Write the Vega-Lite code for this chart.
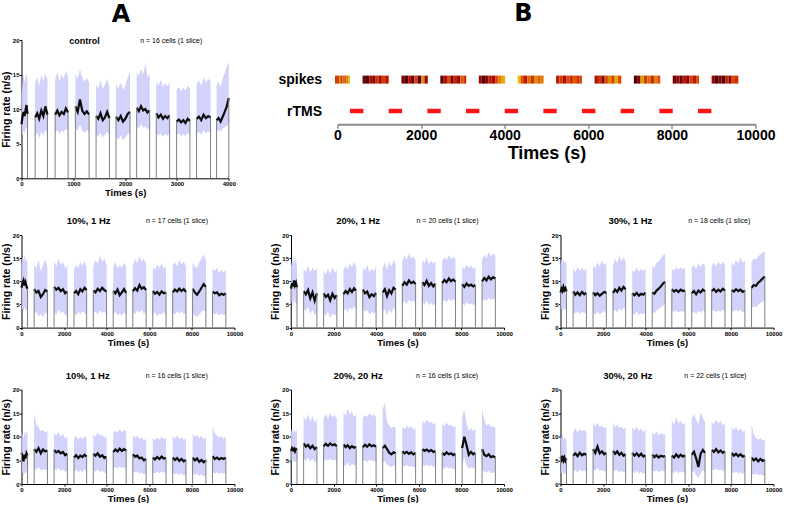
{
"$schema": "https://vega.github.io/schema/vega-lite/v6.json",
"background": "white",
"padding": {"left": 0.5, "top": 2, "right": 0, "bottom": 0},
"config": {
  "font": "Liberation Sans",
  "view": {"stroke": null},
  "axis": {"grid": false, "domainColor": "#000", "tickColor": "#000", "labelColor": "#000", "titleColor": "#000", "labelFont": "Liberation Sans", "titleFont": "Liberation Sans", "labelFontWeight": "bold", "titleFontWeight": "bold", "labelFontSize": 6, "titleFontSize": 9.5, "tickSize": 2, "labelPadding": 0.5, "titlePadding": 1, "labelFlush": false, "labelOverlap": false, "labelBound": false},
  "axisY": {"titleFontSize": 10.5, "labelOverlap": false},
  "text": {"color": "#000"}
},
"datasets": {
"fr": [
{"p":"c","s":1,"t":0,"m":7.8,"lo":5.6,"hi":12.2},{"p":"c","s":1,"t":19,"m":8.9,"lo":6.3,"hi":13.6},{"p":"c","s":1,"t":39,"m":9.6,"lo":6.9,"hi":15.0},{"p":"c","s":1,"t":58,"m":9.0,"lo":6.4,"hi":13.8},{"p":"c","s":1,"t":77,"m":9.8,"lo":7.1,"hi":14.6},{"p":"c","s":1,"t":97,"m":10.6,"lo":7.4,"hi":15.2},{"p":"c","s":1,"t":116,"m":9.3,"lo":6.8,"hi":13.9},
{"p":"c","s":2,"t":263,"m":8.8,"lo":6.0,"hi":13.8},{"p":"c","s":2,"t":303,"m":9.4,"lo":6.6,"hi":14.6},{"p":"c","s":2,"t":342,"m":8.6,"lo":5.8,"hi":13.4},{"p":"c","s":2,"t":382,"m":9.8,"lo":6.8,"hi":15.0},{"p":"c","s":2,"t":422,"m":9.0,"lo":6.2,"hi":14.0},{"p":"c","s":2,"t":461,"m":10.4,"lo":7.0,"hi":15.2},{"p":"c","s":2,"t":501,"m":9.2,"lo":6.4,"hi":14.2},
{"p":"c","s":3,"t":649,"m":9.2,"lo":6.6,"hi":14.2},{"p":"c","s":3,"t":691,"m":9.8,"lo":7.0,"hi":15.4},{"p":"c","s":3,"t":732,"m":9.1,"lo":6.4,"hi":14.0},{"p":"c","s":3,"t":774,"m":9.6,"lo":6.9,"hi":15.0},{"p":"c","s":3,"t":816,"m":9.3,"lo":6.7,"hi":14.4},{"p":"c","s":3,"t":857,"m":10.1,"lo":7.2,"hi":15.6},{"p":"c","s":3,"t":899,"m":9.5,"lo":6.8,"hi":14.6},
{"p":"c","s":4,"t":1040,"m":10.4,"lo":7.4,"hi":15.0},{"p":"c","s":4,"t":1084,"m":9.6,"lo":6.8,"hi":14.4},{"p":"c","s":4,"t":1128,"m":11.4,"lo":7.8,"hi":15.8},{"p":"c","s":4,"t":1172,"m":9.8,"lo":6.9,"hi":14.6},{"p":"c","s":4,"t":1216,"m":9.3,"lo":6.6,"hi":14.0},{"p":"c","s":4,"t":1260,"m":9.7,"lo":7.0,"hi":14.5},{"p":"c","s":4,"t":1304,"m":9.2,"lo":6.7,"hi":13.9},
{"p":"c","s":5,"t":1439,"m":9.0,"lo":6.4,"hi":13.6},{"p":"c","s":5,"t":1482,"m":8.6,"lo":6.0,"hi":13.0},{"p":"c","s":5,"t":1525,"m":9.4,"lo":6.6,"hi":14.2},{"p":"c","s":5,"t":1568,"m":8.4,"lo":5.9,"hi":12.9},{"p":"c","s":5,"t":1610,"m":8.8,"lo":6.3,"hi":13.5},{"p":"c","s":5,"t":1653,"m":9.6,"lo":6.8,"hi":14.4},{"p":"c","s":5,"t":1696,"m":8.7,"lo":6.2,"hi":13.2},
{"p":"c","s":6,"t":1824,"m":8.9,"lo":6.0,"hi":13.6},{"p":"c","s":6,"t":1869,"m":8.4,"lo":5.6,"hi":13.0},{"p":"c","s":6,"t":1914,"m":9.0,"lo":6.2,"hi":13.8},{"p":"c","s":6,"t":1959,"m":8.2,"lo":5.5,"hi":12.8},{"p":"c","s":6,"t":2004,"m":8.6,"lo":5.9,"hi":13.4},{"p":"c","s":6,"t":2049,"m":9.3,"lo":6.4,"hi":14.6},{"p":"c","s":6,"t":2094,"m":9.6,"lo":6.6,"hi":15.4},
{"p":"c","s":7,"t":2222,"m":10.2,"lo":7.6,"hi":15.2},{"p":"c","s":7,"t":2264,"m":9.7,"lo":7.2,"hi":14.8},{"p":"c","s":7,"t":2306,"m":10.4,"lo":7.8,"hi":15.8},{"p":"c","s":7,"t":2348,"m":9.8,"lo":7.3,"hi":15.0},{"p":"c","s":7,"t":2389,"m":10.0,"lo":7.5,"hi":16.6},{"p":"c","s":7,"t":2431,"m":9.5,"lo":7.1,"hi":14.6},{"p":"c","s":7,"t":2473,"m":9.8,"lo":7.4,"hi":15.1},
{"p":"c","s":8,"t":2601,"m":9.4,"lo":6.6,"hi":14.0},{"p":"c","s":8,"t":2644,"m":8.8,"lo":6.2,"hi":13.4},{"p":"c","s":8,"t":2687,"m":9.2,"lo":6.5,"hi":14.2},{"p":"c","s":8,"t":2730,"m":8.6,"lo":6.0,"hi":13.2},{"p":"c","s":8,"t":2772,"m":9.0,"lo":6.4,"hi":13.8},{"p":"c","s":8,"t":2815,"m":8.7,"lo":6.1,"hi":13.3},{"p":"c","s":8,"t":2858,"m":9.1,"lo":6.5,"hi":13.9},
{"p":"c","s":9,"t":2993,"m":8.2,"lo":6.2,"hi":12.8},{"p":"c","s":9,"t":3036,"m":8.5,"lo":6.5,"hi":13.2},{"p":"c","s":9,"t":3079,"m":8.1,"lo":6.0,"hi":12.6},{"p":"c","s":9,"t":3122,"m":8.4,"lo":6.4,"hi":13.1},{"p":"c","s":9,"t":3164,"m":8.0,"lo":6.1,"hi":12.7},{"p":"c","s":9,"t":3207,"m":8.6,"lo":6.6,"hi":13.4},{"p":"c","s":9,"t":3250,"m":8.3,"lo":6.3,"hi":13.0},
{"p":"c","s":10,"t":3378,"m":8.6,"lo":6.4,"hi":13.6},{"p":"c","s":10,"t":3423,"m":8.9,"lo":6.7,"hi":14.2},{"p":"c","s":10,"t":3468,"m":8.4,"lo":6.3,"hi":13.4},{"p":"c","s":10,"t":3513,"m":9.2,"lo":6.9,"hi":14.6},{"p":"c","s":10,"t":3558,"m":8.7,"lo":6.5,"hi":13.8},{"p":"c","s":10,"t":3603,"m":9.0,"lo":6.8,"hi":14.4},{"p":"c","s":10,"t":3648,"m":8.8,"lo":6.6,"hi":14.0},
{"p":"c","s":11,"t":3764,"m":8.4,"lo":6.8,"hi":13.4},{"p":"c","s":11,"t":3803,"m":8.7,"lo":7.0,"hi":14.0},{"p":"c","s":11,"t":3843,"m":8.2,"lo":6.7,"hi":13.2},{"p":"c","s":11,"t":3882,"m":8.9,"lo":7.2,"hi":14.4},{"p":"c","s":11,"t":3921,"m":9.6,"lo":7.4,"hi":15.2},{"p":"c","s":11,"t":3961,"m":10.4,"lo":7.6,"hi":16.2},{"p":"c","s":11,"t":4000,"m":11.6,"lo":7.8,"hi":16.8},

{"p":"a1","s":1,"t":0,"m":8.6,"lo":3.5,"hi":13.8},{"p":"a1","s":1,"t":47,"m":9.6,"lo":4.2,"hi":15.2},{"p":"a1","s":1,"t":94,"m":10.2,"lo":3.8,"hi":14.6},{"p":"a1","s":1,"t":140,"m":9.1,"lo":4.5,"hi":15.8},{"p":"a1","s":1,"t":187,"m":9.8,"lo":3.6,"hi":14.2},{"p":"a1","s":1,"t":234,"m":8.9,"lo":4.0,"hi":15.0},{"p":"a1","s":1,"t":281,"m":8.4,"lo":3.2,"hi":13.9},
{"p":"a1","s":2,"t":593,"m":8.3,"lo":2.8,"hi":13.5},{"p":"a1","s":2,"t":697,"m":7.6,"lo":3.5,"hi":12.8},{"p":"a1","s":2,"t":801,"m":7.9,"lo":2.4,"hi":14.6},{"p":"a1","s":2,"t":905,"m":6.6,"lo":3.0,"hi":12.2},{"p":"a1","s":2,"t":1009,"m":7.2,"lo":2.2,"hi":13.4},{"p":"a1","s":2,"t":1113,"m":8.1,"lo":3.3,"hi":14.8},{"p":"a1","s":2,"t":1217,"m":7.8,"lo":2.9,"hi":13.1},
{"p":"a1","s":3,"t":1529,"m":8.8,"lo":3.6,"hi":14.4},{"p":"a1","s":3,"t":1633,"m":8.2,"lo":2.8,"hi":13.2},{"p":"a1","s":3,"t":1737,"m":8.6,"lo":3.9,"hi":14.9},{"p":"a1","s":3,"t":1841,"m":7.9,"lo":3.1,"hi":13.6},{"p":"a1","s":3,"t":1945,"m":8.3,"lo":3.5,"hi":14.2},{"p":"a1","s":3,"t":2049,"m":7.4,"lo":2.6,"hi":12.8},{"p":"a1","s":3,"t":2153,"m":7.8,"lo":3.0,"hi":13.5},
{"p":"a1","s":4,"t":2465,"m":7.4,"lo":3.2,"hi":12.6},{"p":"a1","s":4,"t":2564,"m":7.9,"lo":2.5,"hi":13.5},{"p":"a1","s":4,"t":2663,"m":7.2,"lo":3.4,"hi":12.9},{"p":"a1","s":4,"t":2762,"m":8.3,"lo":2.9,"hi":14.1},{"p":"a1","s":4,"t":2860,"m":7.8,"lo":3.6,"hi":13.3},{"p":"a1","s":4,"t":2959,"m":8.6,"lo":3.1,"hi":14.4},{"p":"a1","s":4,"t":3058,"m":8.1,"lo":2.7,"hi":13.0},
{"p":"a1","s":5,"t":3370,"m":8.0,"lo":3.0,"hi":13.2},{"p":"a1","s":5,"t":3474,"m":7.6,"lo":3.6,"hi":14.6},{"p":"a1","s":5,"t":3578,"m":8.4,"lo":2.7,"hi":13.8},{"p":"a1","s":5,"t":3682,"m":7.9,"lo":3.8,"hi":15.6},{"p":"a1","s":5,"t":3786,"m":8.6,"lo":3.1,"hi":14.2},{"p":"a1","s":5,"t":3890,"m":8.1,"lo":3.4,"hi":14.9},{"p":"a1","s":5,"t":3994,"m":7.8,"lo":2.8,"hi":13.5},
{"p":"a1","s":6,"t":4306,"m":7.9,"lo":2.9,"hi":13.0},{"p":"a1","s":6,"t":4407,"m":7.4,"lo":3.4,"hi":14.2},{"p":"a1","s":6,"t":4509,"m":8.2,"lo":2.6,"hi":12.7},{"p":"a1","s":6,"t":4610,"m":7.0,"lo":3.1,"hi":13.6},{"p":"a1","s":6,"t":4711,"m":7.6,"lo":2.5,"hi":12.9},{"p":"a1","s":6,"t":4813,"m":8.3,"lo":3.3,"hi":14.0},{"p":"a1","s":6,"t":4914,"m":7.5,"lo":2.8,"hi":13.2},
{"p":"a1","s":7,"t":5226,"m":7.8,"lo":3.4,"hi":13.6},{"p":"a1","s":7,"t":5330,"m":8.5,"lo":2.9,"hi":14.8},{"p":"a1","s":7,"t":5434,"m":8.0,"lo":3.7,"hi":13.9},{"p":"a1","s":7,"t":5538,"m":9.2,"lo":3.2,"hi":15.4},{"p":"a1","s":7,"t":5642,"m":8.4,"lo":3.8,"hi":14.3},{"p":"a1","s":7,"t":5746,"m":8.7,"lo":3.0,"hi":14.9},{"p":"a1","s":7,"t":5850,"m":8.1,"lo":3.5,"hi":13.8},
{"p":"a1","s":8,"t":6162,"m":7.9,"lo":2.7,"hi":13.1},{"p":"a1","s":8,"t":6266,"m":7.3,"lo":3.3,"hi":12.5},{"p":"a1","s":8,"t":6370,"m":7.7,"lo":2.5,"hi":13.6},{"p":"a1","s":8,"t":6474,"m":7.1,"lo":3.0,"hi":12.9},{"p":"a1","s":8,"t":6578,"m":7.8,"lo":2.8,"hi":13.8},{"p":"a1","s":8,"t":6682,"m":7.4,"lo":3.4,"hi":12.7},{"p":"a1","s":8,"t":6786,"m":7.6,"lo":2.6,"hi":13.2},
{"p":"a1","s":9,"t":7098,"m":7.6,"lo":3.1,"hi":13.4},{"p":"a1","s":9,"t":7202,"m":8.2,"lo":2.8,"hi":14.1},{"p":"a1","s":9,"t":7306,"m":7.8,"lo":3.5,"hi":13.2},{"p":"a1","s":9,"t":7410,"m":8.4,"lo":3.0,"hi":14.6},{"p":"a1","s":9,"t":7514,"m":7.9,"lo":3.6,"hi":13.7},{"p":"a1","s":9,"t":7618,"m":8.3,"lo":2.9,"hi":14.2},{"p":"a1","s":9,"t":7722,"m":7.7,"lo":3.2,"hi":13.3},
{"p":"a1","s":10,"t":8034,"m":8.4,"lo":3.0,"hi":14.0},{"p":"a1","s":10,"t":8138,"m":7.6,"lo":2.6,"hi":13.2},{"p":"a1","s":10,"t":8242,"m":7.1,"lo":2.3,"hi":12.8},{"p":"a1","s":10,"t":8346,"m":7.8,"lo":2.9,"hi":14.1},{"p":"a1","s":10,"t":8450,"m":8.6,"lo":3.4,"hi":14.9},{"p":"a1","s":10,"t":8554,"m":9.4,"lo":3.8,"hi":15.8},{"p":"a1","s":10,"t":8658,"m":8.8,"lo":3.3,"hi":14.6},
{"p":"a1","s":11,"t":8970,"m":7.8,"lo":3.2,"hi":12.8},{"p":"a1","s":11,"t":9074,"m":7.4,"lo":2.8,"hi":12.2},{"p":"a1","s":11,"t":9178,"m":7.6,"lo":3.1,"hi":12.9},{"p":"a1","s":11,"t":9282,"m":7.0,"lo":2.6,"hi":11.8},{"p":"a1","s":11,"t":9386,"m":7.3,"lo":3.0,"hi":12.5},{"p":"a1","s":11,"t":9490,"m":7.1,"lo":2.7,"hi":11.9},{"p":"a1","s":11,"t":9594,"m":7.4,"lo":2.9,"hi":12.6},

{"p":"a2","s":1,"t":0,"m":8.4,"lo":5.0,"hi":13.2},{"p":"a2","s":1,"t":47,"m":9.6,"lo":5.8,"hi":14.6},{"p":"a2","s":1,"t":94,"m":8.9,"lo":4.6,"hi":13.8},{"p":"a2","s":1,"t":140,"m":10.2,"lo":6.1,"hi":15.6},{"p":"a2","s":1,"t":187,"m":9.1,"lo":5.2,"hi":14.1},{"p":"a2","s":1,"t":234,"m":9.7,"lo":5.6,"hi":14.8},{"p":"a2","s":1,"t":281,"m":8.7,"lo":4.8,"hi":13.5},
{"p":"a2","s":2,"t":593,"m":7.9,"lo":4.2,"hi":12.6},{"p":"a2","s":2,"t":697,"m":7.2,"lo":3.6,"hi":12.0},{"p":"a2","s":2,"t":801,"m":8.1,"lo":4.5,"hi":13.4},{"p":"a2","s":2,"t":905,"m":6.3,"lo":2.9,"hi":11.8},{"p":"a2","s":2,"t":1009,"m":7.6,"lo":3.8,"hi":13.0},{"p":"a2","s":2,"t":1113,"m":5.8,"lo":2.6,"hi":12.2},{"p":"a2","s":2,"t":1217,"m":7.4,"lo":3.5,"hi":12.8},
{"p":"a2","s":3,"t":1529,"m":7.4,"lo":3.2,"hi":12.2},{"p":"a2","s":3,"t":1633,"m":6.6,"lo":2.5,"hi":11.4},{"p":"a2","s":3,"t":1737,"m":7.1,"lo":3.4,"hi":12.8},{"p":"a2","s":3,"t":1841,"m":5.9,"lo":2.1,"hi":11.6},{"p":"a2","s":3,"t":1945,"m":7.3,"lo":3.1,"hi":13.1},{"p":"a2","s":3,"t":2049,"m":6.4,"lo":2.6,"hi":11.9},{"p":"a2","s":3,"t":2153,"m":7.0,"lo":3.0,"hi":12.5},
{"p":"a2","s":4,"t":2465,"m":7.2,"lo":3.6,"hi":12.4},{"p":"a2","s":4,"t":2564,"m":7.9,"lo":4.1,"hi":13.3},{"p":"a2","s":4,"t":2663,"m":7.4,"lo":3.3,"hi":12.6},{"p":"a2","s":4,"t":2762,"m":8.3,"lo":4.4,"hi":13.9},{"p":"a2","s":4,"t":2860,"m":7.7,"lo":3.8,"hi":12.9},{"p":"a2","s":4,"t":2959,"m":8.5,"lo":4.6,"hi":14.2},{"p":"a2","s":4,"t":3058,"m":8.0,"lo":4.0,"hi":13.2},
{"p":"a2","s":5,"t":3370,"m":8.2,"lo":4.1,"hi":13.0},{"p":"a2","s":5,"t":3474,"m":7.4,"lo":3.4,"hi":12.3},{"p":"a2","s":5,"t":3578,"m":7.8,"lo":3.8,"hi":13.6},{"p":"a2","s":5,"t":3682,"m":6.6,"lo":2.8,"hi":11.9},{"p":"a2","s":5,"t":3786,"m":7.2,"lo":3.5,"hi":12.8},{"p":"a2","s":5,"t":3890,"m":6.8,"lo":3.0,"hi":12.1},{"p":"a2","s":5,"t":3994,"m":7.5,"lo":3.6,"hi":13.2},
{"p":"a2","s":6,"t":4306,"m":7.6,"lo":3.4,"hi":12.9},{"p":"a2","s":6,"t":4407,"m":8.3,"lo":4.0,"hi":14.0},{"p":"a2","s":6,"t":4509,"m":6.8,"lo":2.6,"hi":12.5},{"p":"a2","s":6,"t":4610,"m":8.1,"lo":3.9,"hi":14.3},{"p":"a2","s":6,"t":4711,"m":7.4,"lo":3.1,"hi":13.2},{"p":"a2","s":6,"t":4813,"m":8.6,"lo":4.3,"hi":14.6},{"p":"a2","s":6,"t":4914,"m":8.2,"lo":3.8,"hi":13.8},
{"p":"a2","s":7,"t":5226,"m":9.0,"lo":5.2,"hi":14.2},{"p":"a2","s":7,"t":5330,"m":9.8,"lo":5.8,"hi":15.6},{"p":"a2","s":7,"t":5434,"m":9.3,"lo":5.0,"hi":14.6},{"p":"a2","s":7,"t":5538,"m":10.2,"lo":6.1,"hi":16.1},{"p":"a2","s":7,"t":5642,"m":9.6,"lo":5.5,"hi":14.9},{"p":"a2","s":7,"t":5746,"m":9.9,"lo":5.9,"hi":15.4},{"p":"a2","s":7,"t":5850,"m":9.4,"lo":5.3,"hi":14.5},
{"p":"a2","s":8,"t":6162,"m":9.8,"lo":5.6,"hi":14.6},{"p":"a2","s":8,"t":6266,"m":9.2,"lo":5.0,"hi":13.9},{"p":"a2","s":8,"t":6370,"m":10.1,"lo":5.9,"hi":15.2},{"p":"a2","s":8,"t":6474,"m":9.0,"lo":4.8,"hi":13.6},{"p":"a2","s":8,"t":6578,"m":9.6,"lo":5.4,"hi":14.5},{"p":"a2","s":8,"t":6682,"m":8.9,"lo":4.7,"hi":13.8},{"p":"a2","s":8,"t":6786,"m":9.5,"lo":5.2,"hi":14.4},
{"p":"a2","s":9,"t":7098,"m":9.6,"lo":5.4,"hi":14.4},{"p":"a2","s":9,"t":7202,"m":10.3,"lo":6.0,"hi":15.2},{"p":"a2","s":9,"t":7306,"m":9.8,"lo":5.5,"hi":14.6},{"p":"a2","s":9,"t":7410,"m":10.6,"lo":6.2,"hi":15.6},{"p":"a2","s":9,"t":7514,"m":10.0,"lo":5.7,"hi":14.8},{"p":"a2","s":9,"t":7618,"m":10.4,"lo":6.1,"hi":15.3},{"p":"a2","s":9,"t":7722,"m":9.9,"lo":5.6,"hi":14.7},
{"p":"a2","s":10,"t":8034,"m":9.4,"lo":5.3,"hi":13.2},{"p":"a2","s":10,"t":8138,"m":8.8,"lo":4.8,"hi":12.6},{"p":"a2","s":10,"t":8242,"m":9.5,"lo":5.5,"hi":13.5},{"p":"a2","s":10,"t":8346,"m":9.0,"lo":5.0,"hi":12.9},{"p":"a2","s":10,"t":8450,"m":9.3,"lo":5.2,"hi":13.4},{"p":"a2","s":10,"t":8554,"m":8.9,"lo":4.9,"hi":12.7},{"p":"a2","s":10,"t":8658,"m":9.2,"lo":5.1,"hi":13.1},
{"p":"a2","s":11,"t":8970,"m":10.0,"lo":5.6,"hi":14.6},{"p":"a2","s":11,"t":9074,"m":10.7,"lo":6.2,"hi":15.8},{"p":"a2","s":11,"t":9178,"m":10.2,"lo":5.8,"hi":15.0},{"p":"a2","s":11,"t":9282,"m":11.0,"lo":6.4,"hi":16.4},{"p":"a2","s":11,"t":9386,"m":10.4,"lo":5.9,"hi":15.3},{"p":"a2","s":11,"t":9490,"m":10.9,"lo":6.3,"hi":16.0},{"p":"a2","s":11,"t":9594,"m":10.6,"lo":6.0,"hi":15.5},

{"p":"a3","s":1,"t":0,"m":7.6,"lo":3.6,"hi":13.4},{"p":"a3","s":1,"t":47,"m":8.4,"lo":4.1,"hi":14.6},{"p":"a3","s":1,"t":94,"m":7.9,"lo":3.4,"hi":13.8},{"p":"a3","s":1,"t":140,"m":8.8,"lo":4.3,"hi":15.2},{"p":"a3","s":1,"t":187,"m":8.1,"lo":3.8,"hi":14.0},{"p":"a3","s":1,"t":234,"m":8.5,"lo":4.0,"hi":14.4},{"p":"a3","s":1,"t":281,"m":7.8,"lo":3.5,"hi":13.6},
{"p":"a3","s":2,"t":593,"m":7.8,"lo":3.5,"hi":12.6},{"p":"a3","s":2,"t":697,"m":7.1,"lo":3.0,"hi":12.0},{"p":"a3","s":2,"t":801,"m":7.6,"lo":3.6,"hi":13.1},{"p":"a3","s":2,"t":905,"m":7.0,"lo":2.9,"hi":12.3},{"p":"a3","s":2,"t":1009,"m":7.7,"lo":3.4,"hi":13.0},{"p":"a3","s":2,"t":1113,"m":7.2,"lo":3.1,"hi":12.2},{"p":"a3","s":2,"t":1217,"m":7.5,"lo":3.3,"hi":12.8},
{"p":"a3","s":3,"t":1529,"m":7.6,"lo":3.3,"hi":13.4},{"p":"a3","s":3,"t":1633,"m":7.0,"lo":2.8,"hi":12.8},{"p":"a3","s":3,"t":1737,"m":7.4,"lo":3.4,"hi":14.1},{"p":"a3","s":3,"t":1841,"m":6.9,"lo":2.9,"hi":13.2},{"p":"a3","s":3,"t":1945,"m":7.3,"lo":3.2,"hi":14.5},{"p":"a3","s":3,"t":2049,"m":7.7,"lo":3.6,"hi":13.6},{"p":"a3","s":3,"t":2153,"m":7.5,"lo":3.1,"hi":14.0},
{"p":"a3","s":4,"t":2465,"m":7.5,"lo":3.4,"hi":13.6},{"p":"a3","s":4,"t":2564,"m":8.2,"lo":3.9,"hi":14.8},{"p":"a3","s":4,"t":2663,"m":7.7,"lo":3.2,"hi":13.9},{"p":"a3","s":4,"t":2762,"m":8.6,"lo":4.2,"hi":15.5},{"p":"a3","s":4,"t":2860,"m":8.0,"lo":3.6,"hi":14.2},{"p":"a3","s":4,"t":2959,"m":8.8,"lo":4.4,"hi":15.2},{"p":"a3","s":4,"t":3058,"m":8.3,"lo":3.8,"hi":14.4},
{"p":"a3","s":5,"t":3370,"m":7.4,"lo":3.2,"hi":12.4},{"p":"a3","s":5,"t":3474,"m":7.0,"lo":2.8,"hi":12.0},{"p":"a3","s":5,"t":3578,"m":7.5,"lo":3.4,"hi":12.9},{"p":"a3","s":5,"t":3682,"m":6.9,"lo":2.7,"hi":12.1},{"p":"a3","s":5,"t":3786,"m":7.3,"lo":3.1,"hi":12.7},{"p":"a3","s":5,"t":3890,"m":7.1,"lo":2.9,"hi":12.2},{"p":"a3","s":5,"t":3994,"m":7.6,"lo":3.3,"hi":12.8},
{"p":"a3","s":6,"t":4306,"m":7.6,"lo":3.4,"hi":13.2},{"p":"a3","s":6,"t":4407,"m":7.3,"lo":3.1,"hi":12.9},{"p":"a3","s":6,"t":4509,"m":8.0,"lo":3.7,"hi":14.0},{"p":"a3","s":6,"t":4610,"m":8.4,"lo":4.0,"hi":14.3},{"p":"a3","s":6,"t":4711,"m":8.9,"lo":4.4,"hi":15.0},{"p":"a3","s":6,"t":4813,"m":9.5,"lo":4.8,"hi":15.6},{"p":"a3","s":6,"t":4914,"m":9.9,"lo":5.1,"hi":16.0},
{"p":"a3","s":7,"t":5226,"m":8.3,"lo":3.8,"hi":12.8},{"p":"a3","s":7,"t":5330,"m":7.8,"lo":3.3,"hi":12.3},{"p":"a3","s":7,"t":5434,"m":8.1,"lo":3.7,"hi":13.1},{"p":"a3","s":7,"t":5538,"m":7.7,"lo":3.2,"hi":12.5},{"p":"a3","s":7,"t":5642,"m":8.2,"lo":3.6,"hi":13.0},{"p":"a3","s":7,"t":5746,"m":7.9,"lo":3.4,"hi":12.6},{"p":"a3","s":7,"t":5850,"m":8.0,"lo":3.5,"hi":12.9},
{"p":"a3","s":8,"t":6162,"m":7.4,"lo":3.1,"hi":12.9},{"p":"a3","s":8,"t":6266,"m":7.9,"lo":3.5,"hi":13.5},{"p":"a3","s":8,"t":6370,"m":7.2,"lo":2.9,"hi":12.6},{"p":"a3","s":8,"t":6474,"m":8.0,"lo":3.6,"hi":13.8},{"p":"a3","s":8,"t":6578,"m":7.6,"lo":3.2,"hi":13.1},{"p":"a3","s":8,"t":6682,"m":8.2,"lo":3.7,"hi":13.9},{"p":"a3","s":8,"t":6786,"m":7.8,"lo":3.4,"hi":13.4},
{"p":"a3","s":9,"t":7098,"m":7.9,"lo":3.5,"hi":13.3},{"p":"a3","s":9,"t":7202,"m":8.3,"lo":3.8,"hi":14.0},{"p":"a3","s":9,"t":7306,"m":7.7,"lo":3.3,"hi":13.2},{"p":"a3","s":9,"t":7410,"m":8.2,"lo":3.7,"hi":14.3},{"p":"a3","s":9,"t":7514,"m":7.8,"lo":3.4,"hi":13.5},{"p":"a3","s":9,"t":7618,"m":8.4,"lo":3.9,"hi":14.2},{"p":"a3","s":9,"t":7722,"m":8.0,"lo":3.6,"hi":13.7},
{"p":"a3","s":10,"t":8034,"m":8.1,"lo":3.7,"hi":13.9},{"p":"a3","s":10,"t":8138,"m":7.8,"lo":3.4,"hi":13.4},{"p":"a3","s":10,"t":8242,"m":8.3,"lo":3.9,"hi":14.6},{"p":"a3","s":10,"t":8346,"m":7.9,"lo":3.5,"hi":13.8},{"p":"a3","s":10,"t":8450,"m":8.2,"lo":3.8,"hi":15.2},{"p":"a3","s":10,"t":8554,"m":7.7,"lo":3.3,"hi":14.0},{"p":"a3","s":10,"t":8658,"m":8.0,"lo":3.6,"hi":14.5},
{"p":"a3","s":11,"t":8970,"m":8.6,"lo":4.2,"hi":14.2},{"p":"a3","s":11,"t":9074,"m":9.2,"lo":4.6,"hi":14.9},{"p":"a3","s":11,"t":9178,"m":9.0,"lo":4.4,"hi":14.7},{"p":"a3","s":11,"t":9282,"m":9.7,"lo":4.9,"hi":15.4},{"p":"a3","s":11,"t":9386,"m":10.1,"lo":5.3,"hi":15.8},{"p":"a3","s":11,"t":9490,"m":10.6,"lo":5.6,"hi":16.2},{"p":"a3","s":11,"t":9594,"m":11.0,"lo":5.9,"hi":16.4},

{"p":"b1","s":1,"t":0,"m":6.6,"lo":2.8,"hi":11.2},{"p":"b1","s":1,"t":47,"m":5.8,"lo":2.2,"hi":10.4},{"p":"b1","s":1,"t":94,"m":4.8,"lo":1.8,"hi":9.8},{"p":"b1","s":1,"t":140,"m":6.2,"lo":2.6,"hi":11.0},{"p":"b1","s":1,"t":187,"m":5.4,"lo":2.0,"hi":10.2},{"p":"b1","s":1,"t":234,"m":6.5,"lo":2.9,"hi":11.4},{"p":"b1","s":1,"t":281,"m":6.0,"lo":2.4,"hi":10.6},
{"p":"b1","s":2,"t":593,"m":7.4,"lo":3.4,"hi":14.8},{"p":"b1","s":2,"t":697,"m":6.8,"lo":2.9,"hi":12.6},{"p":"b1","s":2,"t":801,"m":7.6,"lo":3.6,"hi":12.0},{"p":"b1","s":2,"t":905,"m":6.5,"lo":2.8,"hi":11.2},{"p":"b1","s":2,"t":1009,"m":7.3,"lo":3.2,"hi":11.6},{"p":"b1","s":2,"t":1113,"m":6.9,"lo":3.0,"hi":10.8},{"p":"b1","s":2,"t":1217,"m":7.1,"lo":3.1,"hi":11.3},
{"p":"b1","s":3,"t":1529,"m":7.2,"lo":3.3,"hi":10.8},{"p":"b1","s":3,"t":1633,"m":6.7,"lo":2.9,"hi":10.2},{"p":"b1","s":3,"t":1737,"m":7.0,"lo":3.4,"hi":11.0},{"p":"b1","s":3,"t":1841,"m":6.5,"lo":2.8,"hi":10.0},{"p":"b1","s":3,"t":1945,"m":6.8,"lo":3.1,"hi":10.6},{"p":"b1","s":3,"t":2049,"m":6.1,"lo":2.6,"hi":9.6},{"p":"b1","s":3,"t":2153,"m":6.4,"lo":2.9,"hi":10.1},
{"p":"b1","s":4,"t":2465,"m":5.6,"lo":2.6,"hi":9.6},{"p":"b1","s":4,"t":2564,"m":6.1,"lo":3.0,"hi":10.2},{"p":"b1","s":4,"t":2663,"m":5.5,"lo":2.4,"hi":9.4},{"p":"b1","s":4,"t":2762,"m":6.0,"lo":2.9,"hi":10.0},{"p":"b1","s":4,"t":2860,"m":5.7,"lo":2.5,"hi":9.5},{"p":"b1","s":4,"t":2959,"m":6.2,"lo":3.1,"hi":10.1},{"p":"b1","s":4,"t":3058,"m":5.8,"lo":2.7,"hi":9.7},
{"p":"b1","s":5,"t":3370,"m":6.4,"lo":2.9,"hi":10.6},{"p":"b1","s":5,"t":3474,"m":6.0,"lo":2.6,"hi":10.0},{"p":"b1","s":5,"t":3578,"m":6.5,"lo":3.0,"hi":10.9},{"p":"b1","s":5,"t":3682,"m":5.8,"lo":2.5,"hi":10.2},{"p":"b1","s":5,"t":3786,"m":6.1,"lo":2.8,"hi":10.5},{"p":"b1","s":5,"t":3890,"m":5.5,"lo":2.3,"hi":9.8},{"p":"b1","s":5,"t":3994,"m":5.8,"lo":2.6,"hi":10.1},
{"p":"b1","s":6,"t":4306,"m":6.8,"lo":3.2,"hi":10.8},{"p":"b1","s":6,"t":4407,"m":7.3,"lo":3.6,"hi":11.3},{"p":"b1","s":6,"t":4509,"m":6.9,"lo":3.3,"hi":10.9},{"p":"b1","s":6,"t":4610,"m":7.5,"lo":3.7,"hi":11.6},{"p":"b1","s":6,"t":4711,"m":7.0,"lo":3.4,"hi":11.0},{"p":"b1","s":6,"t":4813,"m":7.4,"lo":3.6,"hi":11.4},{"p":"b1","s":6,"t":4914,"m":7.1,"lo":3.3,"hi":11.1},
{"p":"b1","s":7,"t":5226,"m":6.3,"lo":2.8,"hi":10.4},{"p":"b1","s":7,"t":5330,"m":5.8,"lo":2.4,"hi":9.8},{"p":"b1","s":7,"t":5434,"m":6.0,"lo":2.7,"hi":10.2},{"p":"b1","s":7,"t":5538,"m":5.4,"lo":2.2,"hi":9.6},{"p":"b1","s":7,"t":5642,"m":5.6,"lo":2.5,"hi":9.9},{"p":"b1","s":7,"t":5746,"m":5.0,"lo":2.0,"hi":9.2},{"p":"b1","s":7,"t":5850,"m":5.3,"lo":2.3,"hi":9.6},
{"p":"b1","s":8,"t":6162,"m":5.6,"lo":2.5,"hi":9.8},{"p":"b1","s":8,"t":6266,"m":5.2,"lo":2.2,"hi":9.2},{"p":"b1","s":8,"t":6370,"m":5.7,"lo":2.6,"hi":9.9},{"p":"b1","s":8,"t":6474,"m":5.3,"lo":2.3,"hi":9.4},{"p":"b1","s":8,"t":6578,"m":5.8,"lo":2.7,"hi":10.0},{"p":"b1","s":8,"t":6682,"m":5.4,"lo":2.4,"hi":9.5},{"p":"b1","s":8,"t":6786,"m":5.5,"lo":2.5,"hi":9.7},
{"p":"b1","s":9,"t":7098,"m":5.6,"lo":2.4,"hi":10.2},{"p":"b1","s":9,"t":7202,"m":5.1,"lo":2.0,"hi":9.6},{"p":"b1","s":9,"t":7306,"m":5.5,"lo":2.3,"hi":10.3},{"p":"b1","s":9,"t":7410,"m":4.9,"lo":1.9,"hi":9.5},{"p":"b1","s":9,"t":7514,"m":5.3,"lo":2.2,"hi":9.9},{"p":"b1","s":9,"t":7618,"m":4.8,"lo":1.8,"hi":9.3},{"p":"b1","s":9,"t":7722,"m":5.1,"lo":2.1,"hi":9.7},
{"p":"b1","s":10,"t":8034,"m":5.6,"lo":2.3,"hi":10.6},{"p":"b1","s":10,"t":8138,"m":5.0,"lo":1.9,"hi":10.0},{"p":"b1","s":10,"t":8242,"m":5.4,"lo":2.2,"hi":10.4},{"p":"b1","s":10,"t":8346,"m":4.7,"lo":1.7,"hi":9.7},{"p":"b1","s":10,"t":8450,"m":5.1,"lo":2.0,"hi":10.2},{"p":"b1","s":10,"t":8554,"m":4.6,"lo":1.6,"hi":9.5},{"p":"b1","s":10,"t":8658,"m":5.0,"lo":1.9,"hi":9.9},
{"p":"b1","s":11,"t":8970,"m":5.9,"lo":2.6,"hi":12.2},{"p":"b1","s":11,"t":9074,"m":5.3,"lo":2.2,"hi":10.8},{"p":"b1","s":11,"t":9178,"m":5.6,"lo":2.5,"hi":10.2},{"p":"b1","s":11,"t":9282,"m":5.2,"lo":2.1,"hi":9.8},{"p":"b1","s":11,"t":9386,"m":5.5,"lo":2.4,"hi":10.1},{"p":"b1","s":11,"t":9490,"m":5.3,"lo":2.2,"hi":9.6},{"p":"b1","s":11,"t":9594,"m":5.6,"lo":2.5,"hi":10.0},

{"p":"b2","s":1,"t":0,"m":7.0,"lo":4.8,"hi":11.0},{"p":"b2","s":1,"t":47,"m":7.6,"lo":5.2,"hi":11.8},{"p":"b2","s":1,"t":94,"m":7.2,"lo":4.6,"hi":10.9},{"p":"b2","s":1,"t":140,"m":7.5,"lo":5.1,"hi":11.6},{"p":"b2","s":1,"t":187,"m":6.9,"lo":4.5,"hi":10.8},{"p":"b2","s":1,"t":234,"m":7.4,"lo":5.0,"hi":11.4},{"p":"b2","s":1,"t":281,"m":7.2,"lo":4.7,"hi":11.1},
{"p":"b2","s":2,"t":593,"m":8.6,"lo":5.4,"hi":14.2},{"p":"b2","s":2,"t":697,"m":7.9,"lo":4.9,"hi":13.4},{"p":"b2","s":2,"t":801,"m":8.3,"lo":5.6,"hi":14.8},{"p":"b2","s":2,"t":905,"m":7.6,"lo":4.7,"hi":13.2},{"p":"b2","s":2,"t":1009,"m":8.1,"lo":5.3,"hi":14.4},{"p":"b2","s":2,"t":1113,"m":7.4,"lo":4.6,"hi":13.0},{"p":"b2","s":2,"t":1217,"m":7.8,"lo":5.0,"hi":13.8},
{"p":"b2","s":3,"t":1529,"m":8.0,"lo":4.8,"hi":14.0},{"p":"b2","s":3,"t":1633,"m":8.5,"lo":5.3,"hi":14.8},{"p":"b2","s":3,"t":1737,"m":8.1,"lo":4.9,"hi":13.9},{"p":"b2","s":3,"t":1841,"m":8.6,"lo":5.4,"hi":15.0},{"p":"b2","s":3,"t":1945,"m":8.2,"lo":5.0,"hi":14.2},{"p":"b2","s":3,"t":2049,"m":8.4,"lo":5.2,"hi":14.6},{"p":"b2","s":3,"t":2153,"m":8.0,"lo":4.8,"hi":13.8},
{"p":"b2","s":4,"t":2465,"m":8.4,"lo":4.2,"hi":15.2},{"p":"b2","s":4,"t":2564,"m":7.8,"lo":3.8,"hi":14.4},{"p":"b2","s":4,"t":2663,"m":8.2,"lo":4.6,"hi":16.0},{"p":"b2","s":4,"t":2762,"m":7.6,"lo":3.6,"hi":14.6},{"p":"b2","s":4,"t":2860,"m":8.0,"lo":4.3,"hi":15.4},{"p":"b2","s":4,"t":2959,"m":7.7,"lo":3.9,"hi":14.2},{"p":"b2","s":4,"t":3058,"m":7.9,"lo":4.1,"hi":14.8},
{"p":"b2","s":5,"t":3370,"m":7.8,"lo":4.8,"hi":14.0},{"p":"b2","s":5,"t":3474,"m":8.3,"lo":5.1,"hi":14.6},{"p":"b2","s":5,"t":3578,"m":7.9,"lo":4.6,"hi":14.2},{"p":"b2","s":5,"t":3682,"m":8.4,"lo":5.2,"hi":15.0},{"p":"b2","s":5,"t":3786,"m":8.0,"lo":4.9,"hi":14.4},{"p":"b2","s":5,"t":3890,"m":8.2,"lo":5.0,"hi":14.8},{"p":"b2","s":5,"t":3994,"m":7.9,"lo":4.7,"hi":14.1},
{"p":"b2","s":6,"t":4306,"m":7.6,"lo":4.6,"hi":15.8},{"p":"b2","s":6,"t":4407,"m":8.1,"lo":4.9,"hi":17.2},{"p":"b2","s":6,"t":4509,"m":7.4,"lo":4.2,"hi":13.2},{"p":"b2","s":6,"t":4610,"m":6.6,"lo":3.8,"hi":12.4},{"p":"b2","s":6,"t":4711,"m":6.3,"lo":3.6,"hi":11.8},{"p":"b2","s":6,"t":4813,"m":6.7,"lo":3.9,"hi":12.2},{"p":"b2","s":6,"t":4914,"m":6.5,"lo":3.7,"hi":11.9},
{"p":"b2","s":7,"t":5226,"m":6.9,"lo":4.0,"hi":12.2},{"p":"b2","s":7,"t":5330,"m":6.5,"lo":3.7,"hi":11.6},{"p":"b2","s":7,"t":5434,"m":6.8,"lo":4.1,"hi":12.4},{"p":"b2","s":7,"t":5538,"m":6.4,"lo":3.6,"hi":11.8},{"p":"b2","s":7,"t":5642,"m":6.7,"lo":3.9,"hi":12.3},{"p":"b2","s":7,"t":5746,"m":6.3,"lo":3.5,"hi":11.5},{"p":"b2","s":7,"t":5850,"m":6.6,"lo":3.8,"hi":12.0},
{"p":"b2","s":8,"t":6162,"m":7.4,"lo":4.2,"hi":13.4},{"p":"b2","s":8,"t":6266,"m":7.0,"lo":3.8,"hi":12.8},{"p":"b2","s":8,"t":6370,"m":7.3,"lo":4.1,"hi":13.6},{"p":"b2","s":8,"t":6474,"m":6.9,"lo":3.7,"hi":12.9},{"p":"b2","s":8,"t":6578,"m":7.2,"lo":4.0,"hi":13.2},{"p":"b2","s":8,"t":6682,"m":6.8,"lo":3.6,"hi":12.6},{"p":"b2","s":8,"t":6786,"m":7.0,"lo":3.9,"hi":13.0},
{"p":"b2","s":9,"t":7098,"m":6.6,"lo":3.6,"hi":12.8},{"p":"b2","s":9,"t":7202,"m":6.2,"lo":3.2,"hi":12.2},{"p":"b2","s":9,"t":7306,"m":6.7,"lo":3.7,"hi":13.0},{"p":"b2","s":9,"t":7410,"m":6.3,"lo":3.3,"hi":12.4},{"p":"b2","s":9,"t":7514,"m":6.5,"lo":3.5,"hi":12.6},{"p":"b2","s":9,"t":7618,"m":6.1,"lo":3.1,"hi":12.0},{"p":"b2","s":9,"t":7722,"m":6.4,"lo":3.4,"hi":12.3},
{"p":"b2","s":10,"t":8034,"m":7.6,"lo":4.2,"hi":14.2},{"p":"b2","s":10,"t":8138,"m":10.0,"lo":5.6,"hi":15.8},{"p":"b2","s":10,"t":8242,"m":8.2,"lo":4.0,"hi":13.0},{"p":"b2","s":10,"t":8346,"m":6.2,"lo":3.2,"hi":11.2},{"p":"b2","s":10,"t":8450,"m":6.8,"lo":3.6,"hi":11.8},{"p":"b2","s":10,"t":8554,"m":6.3,"lo":3.3,"hi":11.3},{"p":"b2","s":10,"t":8658,"m":6.6,"lo":3.5,"hi":11.6},
{"p":"b2","s":11,"t":8970,"m":7.4,"lo":3.2,"hi":15.8},{"p":"b2","s":11,"t":9074,"m":6.2,"lo":2.6,"hi":13.6},{"p":"b2","s":11,"t":9178,"m":5.9,"lo":2.4,"hi":12.4},{"p":"b2","s":11,"t":9282,"m":6.3,"lo":2.8,"hi":12.8},{"p":"b2","s":11,"t":9386,"m":5.7,"lo":2.3,"hi":12.0},{"p":"b2","s":11,"t":9490,"m":5.9,"lo":2.5,"hi":12.3},{"p":"b2","s":11,"t":9594,"m":5.6,"lo":2.2,"hi":11.8},

{"p":"b3","s":1,"t":0,"m":5.8,"lo":2.6,"hi":10.2},{"p":"b3","s":1,"t":47,"m":5.2,"lo":2.2,"hi":9.6},{"p":"b3","s":1,"t":94,"m":6.0,"lo":2.8,"hi":10.6},{"p":"b3","s":1,"t":140,"m":5.0,"lo":2.0,"hi":9.4},{"p":"b3","s":1,"t":187,"m":5.6,"lo":2.5,"hi":10.0},{"p":"b3","s":1,"t":234,"m":4.9,"lo":1.9,"hi":9.3},{"p":"b3","s":1,"t":281,"m":5.4,"lo":2.3,"hi":9.8},
{"p":"b3","s":2,"t":593,"m":6.0,"lo":2.6,"hi":11.0},{"p":"b3","s":2,"t":697,"m":6.5,"lo":3.0,"hi":11.8},{"p":"b3","s":2,"t":801,"m":5.9,"lo":2.4,"hi":10.8},{"p":"b3","s":2,"t":905,"m":6.6,"lo":3.1,"hi":11.6},{"p":"b3","s":2,"t":1009,"m":6.1,"lo":2.7,"hi":11.2},{"p":"b3","s":2,"t":1113,"m":6.4,"lo":2.9,"hi":11.5},{"p":"b3","s":2,"t":1217,"m":6.2,"lo":2.6,"hi":11.0},
{"p":"b3","s":3,"t":1529,"m":7.4,"lo":3.2,"hi":13.2},{"p":"b3","s":3,"t":1633,"m":6.6,"lo":2.8,"hi":12.2},{"p":"b3","s":3,"t":1737,"m":7.9,"lo":3.5,"hi":13.0},{"p":"b3","s":3,"t":1841,"m":6.5,"lo":2.7,"hi":12.0},{"p":"b3","s":3,"t":1945,"m":6.9,"lo":3.0,"hi":12.4},{"p":"b3","s":3,"t":2049,"m":6.3,"lo":2.6,"hi":11.8},{"p":"b3","s":3,"t":2153,"m":6.6,"lo":2.8,"hi":12.1},
{"p":"b3","s":4,"t":2465,"m":7.0,"lo":3.1,"hi":12.8},{"p":"b3","s":4,"t":2564,"m":6.4,"lo":2.7,"hi":12.0},{"p":"b3","s":4,"t":2663,"m":6.9,"lo":3.0,"hi":12.6},{"p":"b3","s":4,"t":2762,"m":6.2,"lo":2.5,"hi":11.8},{"p":"b3","s":4,"t":2860,"m":6.6,"lo":2.8,"hi":12.2},{"p":"b3","s":4,"t":2959,"m":6.0,"lo":2.4,"hi":11.6},{"p":"b3","s":4,"t":3058,"m":6.3,"lo":2.6,"hi":11.9},
{"p":"b3","s":5,"t":3370,"m":6.6,"lo":2.7,"hi":12.0},{"p":"b3","s":5,"t":3474,"m":6.0,"lo":2.3,"hi":11.4},{"p":"b3","s":5,"t":3578,"m":6.5,"lo":2.8,"hi":12.2},{"p":"b3","s":5,"t":3682,"m":5.9,"lo":2.2,"hi":11.2},{"p":"b3","s":5,"t":3786,"m":6.4,"lo":2.6,"hi":11.8},{"p":"b3","s":5,"t":3890,"m":5.8,"lo":2.1,"hi":11.0},{"p":"b3","s":5,"t":3994,"m":6.1,"lo":2.4,"hi":11.5},
{"p":"b3","s":6,"t":4306,"m":6.2,"lo":3.0,"hi":11.0},{"p":"b3","s":6,"t":4407,"m":5.7,"lo":2.6,"hi":10.4},{"p":"b3","s":6,"t":4509,"m":6.1,"lo":2.9,"hi":11.2},{"p":"b3","s":6,"t":4610,"m":5.6,"lo":2.5,"hi":10.3},{"p":"b3","s":6,"t":4711,"m":6.0,"lo":2.8,"hi":10.8},{"p":"b3","s":6,"t":4813,"m":5.8,"lo":2.7,"hi":10.5},{"p":"b3","s":6,"t":4914,"m":5.9,"lo":2.8,"hi":10.7},
{"p":"b3","s":7,"t":5226,"m":6.0,"lo":2.6,"hi":13.6},{"p":"b3","s":7,"t":5330,"m":5.6,"lo":2.2,"hi":12.4},{"p":"b3","s":7,"t":5434,"m":6.3,"lo":2.8,"hi":14.2},{"p":"b3","s":7,"t":5538,"m":5.7,"lo":2.3,"hi":12.8},{"p":"b3","s":7,"t":5642,"m":6.2,"lo":2.7,"hi":13.4},{"p":"b3","s":7,"t":5746,"m":5.8,"lo":2.4,"hi":12.6},{"p":"b3","s":7,"t":5850,"m":6.1,"lo":2.6,"hi":13.0},
{"p":"b3","s":8,"t":6162,"m":6.2,"lo":2.4,"hi":13.8},{"p":"b3","s":8,"t":6266,"m":6.8,"lo":2.8,"hi":14.8},{"p":"b3","s":8,"t":6370,"m":5.4,"lo":1.8,"hi":13.6},{"p":"b3","s":8,"t":6474,"m":3.6,"lo":1.2,"hi":12.6},{"p":"b3","s":8,"t":6578,"m":6.4,"lo":2.3,"hi":15.2},{"p":"b3","s":8,"t":6682,"m":7.2,"lo":2.9,"hi":14.0},{"p":"b3","s":8,"t":6786,"m":6.6,"lo":2.5,"hi":13.2},
{"p":"b3","s":9,"t":7098,"m":7.2,"lo":3.2,"hi":13.2},{"p":"b3","s":9,"t":7202,"m":6.8,"lo":2.9,"hi":12.6},{"p":"b3","s":9,"t":7306,"m":7.4,"lo":3.3,"hi":13.6},{"p":"b3","s":9,"t":7410,"m":6.7,"lo":2.8,"hi":12.8},{"p":"b3","s":9,"t":7514,"m":7.1,"lo":3.1,"hi":13.4},{"p":"b3","s":9,"t":7618,"m":6.6,"lo":2.7,"hi":12.4},{"p":"b3","s":9,"t":7722,"m":6.9,"lo":3.0,"hi":13.0},
{"p":"b3","s":10,"t":8034,"m":6.6,"lo":2.6,"hi":12.2},{"p":"b3","s":10,"t":8138,"m":6.0,"lo":2.3,"hi":11.4},{"p":"b3","s":10,"t":8242,"m":6.4,"lo":2.7,"hi":12.0},{"p":"b3","s":10,"t":8346,"m":5.9,"lo":2.2,"hi":11.2},{"p":"b3","s":10,"t":8450,"m":6.3,"lo":2.5,"hi":11.8},{"p":"b3","s":10,"t":8554,"m":5.8,"lo":2.1,"hi":11.0},{"p":"b3","s":10,"t":8658,"m":6.0,"lo":2.4,"hi":11.4},
{"p":"b3","s":11,"t":8970,"m":5.6,"lo":2.2,"hi":12.6},{"p":"b3","s":11,"t":9074,"m":5.0,"lo":1.9,"hi":10.6},{"p":"b3","s":11,"t":9178,"m":5.4,"lo":2.3,"hi":9.8},{"p":"b3","s":11,"t":9282,"m":4.8,"lo":1.8,"hi":9.4},{"p":"b3","s":11,"t":9386,"m":5.3,"lo":2.1,"hi":9.7},{"p":"b3","s":11,"t":9490,"m":4.9,"lo":1.7,"hi":9.2},{"p":"b3","s":11,"t":9594,"m":5.1,"lo":2.0,"hi":9.5}
],
"spk": [
{"track":"spikes","t0":-60,"t1":40,"v":0.55},{"track":"spikes","t0":40,"t1":85,"v":0.75},{"track":"spikes","t0":85,"t1":120,"v":0.45},{"track":"spikes","t0":120,"t1":165,"v":0.7},{"track":"spikes","t0":165,"t1":200,"v":0.5},{"track":"spikes","t0":200,"t1":235,"v":0.85},{"track":"spikes","t0":235,"t1":265,"v":0.6},{"track":"spikes","t0":265,"t1":300,"v":0.95},
{"track":"spikes","t0":600,"t1":680,"v":0.15},{"track":"spikes","t0":680,"t1":760,"v":0.05},{"track":"spikes","t0":760,"t1":830,"v":0.35},{"track":"spikes","t0":830,"t1":900,"v":0.25},{"track":"spikes","t0":900,"t1":980,"v":0.5},{"track":"spikes","t0":980,"t1":1060,"v":0.3},{"track":"spikes","t0":1060,"t1":1140,"v":0.55},{"track":"spikes","t0":1140,"t1":1225,"v":0.4},
{"track":"spikes","t0":1530,"t1":1610,"v":0.2},{"track":"spikes","t0":1610,"t1":1690,"v":0.05},{"track":"spikes","t0":1690,"t1":1760,"v":0.4},{"track":"spikes","t0":1760,"t1":1840,"v":0.15},{"track":"spikes","t0":1840,"t1":1920,"v":0.55},{"track":"spikes","t0":1920,"t1":2000,"v":0.1},{"track":"spikes","t0":2000,"t1":2080,"v":0.8},{"track":"spikes","t0":2080,"t1":2160,"v":0.3},
{"track":"spikes","t0":2460,"t1":2540,"v":0.1},{"track":"spikes","t0":2540,"t1":2620,"v":0.35},{"track":"spikes","t0":2620,"t1":2700,"v":0.6},{"track":"spikes","t0":2700,"t1":2780,"v":0.2},{"track":"spikes","t0":2780,"t1":2860,"v":0.45},{"track":"spikes","t0":2860,"t1":2940,"v":0.3},{"track":"spikes","t0":2940,"t1":3010,"v":0.65},{"track":"spikes","t0":3010,"t1":3080,"v":0.5},
{"track":"spikes","t0":3380,"t1":3450,"v":0.3},{"track":"spikes","t0":3450,"t1":3530,"v":0.05},{"track":"spikes","t0":3530,"t1":3610,"v":0.25},{"track":"spikes","t0":3610,"t1":3690,"v":0.4},{"track":"spikes","t0":3690,"t1":3770,"v":0.3},{"track":"spikes","t0":3770,"t1":3850,"v":0.6},{"track":"spikes","t0":3850,"t1":3930,"v":0.75},{"track":"spikes","t0":3930,"t1":4010,"v":0.9},
{"track":"spikes","t0":4310,"t1":4380,"v":0.95},{"track":"spikes","t0":4380,"t1":4460,"v":0.6},{"track":"spikes","t0":4460,"t1":4540,"v":0.4},{"track":"spikes","t0":4540,"t1":4620,"v":0.7},{"track":"spikes","t0":4620,"t1":4700,"v":0.5},{"track":"spikes","t0":4700,"t1":4780,"v":0.8},{"track":"spikes","t0":4780,"t1":4860,"v":0.65},{"track":"spikes","t0":4860,"t1":4930,"v":0.75},
{"track":"spikes","t0":5230,"t1":5310,"v":0.4},{"track":"spikes","t0":5310,"t1":5390,"v":0.55},{"track":"spikes","t0":5390,"t1":5470,"v":0.35},{"track":"spikes","t0":5470,"t1":5550,"v":0.6},{"track":"spikes","t0":5550,"t1":5630,"v":0.45},{"track":"spikes","t0":5630,"t1":5710,"v":0.65},{"track":"spikes","t0":5710,"t1":5780,"v":0.5},{"track":"spikes","t0":5780,"t1":5850,"v":0.6},
{"track":"spikes","t0":6150,"t1":6230,"v":0.35},{"track":"spikes","t0":6230,"t1":6310,"v":0.5},{"track":"spikes","t0":6310,"t1":6390,"v":0.25},{"track":"spikes","t0":6390,"t1":6470,"v":0.6},{"track":"spikes","t0":6470,"t1":6550,"v":0.8},{"track":"spikes","t0":6550,"t1":6630,"v":0.55},{"track":"spikes","t0":6630,"t1":6710,"v":0.9},{"track":"spikes","t0":6710,"t1":6790,"v":0.6},
{"track":"spikes","t0":7090,"t1":7170,"v":0.05},{"track":"spikes","t0":7170,"t1":7250,"v":0.2},{"track":"spikes","t0":7250,"t1":7330,"v":0.85},{"track":"spikes","t0":7330,"t1":7410,"v":0.55},{"track":"spikes","t0":7410,"t1":7490,"v":0.7},{"track":"spikes","t0":7490,"t1":7570,"v":0.45},{"track":"spikes","t0":7570,"t1":7650,"v":0.75},{"track":"spikes","t0":7650,"t1":7720,"v":0.6},
{"track":"spikes","t0":8020,"t1":8100,"v":0.15},{"track":"spikes","t0":8100,"t1":8180,"v":0.3},{"track":"spikes","t0":8180,"t1":8260,"v":0.1},{"track":"spikes","t0":8260,"t1":8340,"v":0.4},{"track":"spikes","t0":8340,"t1":8420,"v":0.25},{"track":"spikes","t0":8420,"t1":8500,"v":0.55},{"track":"spikes","t0":8500,"t1":8580,"v":0.4},{"track":"spikes","t0":8580,"t1":8650,"v":0.6},
{"track":"spikes","t0":8950,"t1":9030,"v":0.3},{"track":"spikes","t0":9030,"t1":9110,"v":0.05},{"track":"spikes","t0":9110,"t1":9190,"v":0.2},{"track":"spikes","t0":9190,"t1":9270,"v":0.1},{"track":"spikes","t0":9270,"t1":9350,"v":0.45},{"track":"spikes","t0":9350,"t1":9430,"v":0.25},{"track":"spikes","t0":9430,"t1":9510,"v":0.6},{"track":"spikes","t0":9510,"t1":9590,"v":0.5}
],
"tms": [
{"track":"rTMS","t0":300,"t1":620},{"track":"rTMS","t0":1225,"t1":1545},{"track":"rTMS","t0":2150,"t1":2470},{"track":"rTMS","t0":3075,"t1":3395},{"track":"rTMS","t0":4000,"t1":4320},{"track":"rTMS","t0":4925,"t1":5245},{"track":"rTMS","t0":5850,"t1":6170},{"track":"rTMS","t0":6775,"t1":7095},{"track":"rTMS","t0":7700,"t1":8020},{"track":"rTMS","t0":8625,"t1":8945}
]
},
"spacing": 17,
"vconcat": [
{
 "hconcat": [
  {
   "width": 207.3, "height": 138.3,
   "title": {"text": "A", "font": "DejaVu Sans", "fontSize": 24, "fontWeight": "bold", "color": "#000", "anchor": "middle", "frame": "group", "baseline": "alphabetic", "offset": -8.9, "dx": -4},
   "data": {"name": "fr"},
   "layer": [
    {"transform": [{"filter": "datum.p == 'c'"}], "mark": {"type": "area", "color": "#cdcdfb", "opacity": 0.9},
     "encoding": {"x": {"field": "t", "type": "quantitative", "scale": {"domain": [0, 4000], "nice": false}, "axis": {"title": "Times (s)", "values": [0, 1000, 2000, 3000, 4000], "format": "d"}},
      "y": {"field": "lo", "type": "quantitative", "scale": {"domain": [0, 20], "nice": false}, "axis": {"title": "Firing rate (n/s)", "values": [0, 5, 10, 15, 20], "tickCount": 5, "labelOverlap": false}},
      "y2": {"field": "hi"}, "detail": {"field": "s", "type": "nominal"}}},
    {"transform": [{"filter": "datum.p == 'c'"}], "mark": {"type": "line", "color": "#0d0d0d", "strokeWidth": 2.2},
     "encoding": {"x": {"field": "t", "type": "quantitative", "axis": {"title": "Times (s)", "values": [0, 1000, 2000, 3000, 4000], "format": "d"}}, "y": {"field": "m", "type": "quantitative", "axis": {"title": "Firing rate (n/s)", "values": [0, 5, 10, 15, 20], "tickCount": 5, "labelOverlap": false}}, "detail": {"field": "s", "type": "nominal"}}},
    {"transform": [{"filter": "datum.p == 'c'"}, {"joinaggregate": [{"op": "min", "field": "t", "as": "t0"}, {"op": "max", "field": "t", "as": "t1"}], "groupby": ["s"]}, {"filter": "datum.t == datum.t0 || datum.t == datum.t1"}],
     "mark": {"type": "rule", "color": "#808080", "strokeWidth": 1},
     "encoding": {"x": {"field": "t", "type": "quantitative", "axis": {"title": "Times (s)", "values": [0, 1000, 2000, 3000, 4000], "format": "d"}}, "y": {"field": "m", "type": "quantitative", "axis": {"title": "Firing rate (n/s)", "values": [0, 5, 10, 15, 20], "tickCount": 5, "labelOverlap": false}}, "y2": {"value": "height"}}},
    {"data": {"values": [{}]}, "mark": {"type": "text", "fontWeight": "bold", "fontSize": 9, "baseline": "middle"}, "encoding": {"x": {"datum": 1215, "type": "quantitative"}, "y": {"datum": 19.8, "type": "quantitative"}, "text": {"value": "control"}}},
    {"data": {"values": [{}]}, "mark": {"type": "text", "fontSize": 7, "baseline": "middle"}, "encoding": {"x": {"datum": 2890, "type": "quantitative"}, "y": {"datum": 19.8, "type": "quantitative"}, "text": {"value": "n = 16 cells (1 slice)"}}}
   ]
  },
  {
   "width": 418, "height": 84.3,
   "title": {"text": "B", "font": "DejaVu Sans", "fontSize": 24, "fontWeight": "bold", "color": "#000", "anchor": "middle", "frame": "group", "baseline": "alphabetic", "offset": -5.4, "dx": -23},
   "layer": [
    {"data": {"name": "spk"}, "mark": {"type": "bar", "height": 8},
     "encoding": {"x": {"field": "t0", "type": "quantitative", "scale": {"domain": [0, 10000], "nice": false}, "axis": {"title": "Times (s)", "values": [0, 2000, 4000, 6000, 8000, 10000], "format": "d", "labelFontSize": 14, "titleFontSize": 18, "domainColor": "#8c8c8c", "domainWidth": 2, "tickColor": "#8c8c8c", "tickWidth": 1.5, "tickSize": 4, "labelPadding": 0, "titlePadding": 2}},
      "x2": {"field": "t1"},
      "y": {"field": "track", "type": "nominal", "scale": {"type": "point", "domain": ["spikes", "rTMS"], "range": [39.6, 71], "padding": 0}, "axis": {"title": null, "domain": false, "ticks": false, "labelFontSize": 14, "labelPadding": 16}},
      "color": {"field": "v", "type": "quantitative", "scale": {"domain": [0, 0.2, 0.4, 0.6, 0.8, 1], "range": ["#3a0000", "#7d0000", "#bf1500", "#db4a00", "#dc8c00", "#e8cf00"]}, "legend": null}}},
    {"data": {"name": "tms"}, "mark": {"type": "bar", "height": 4.5, "color": "#ff1414"},
     "encoding": {"x": {"field": "t0", "type": "quantitative"}, "x2": {"field": "t1"}, "y": {"field": "track", "type": "nominal"}}}
   ]
  }
 ],
 "spacing": 42
},
{
 "spacing": 23.6,
 "vconcat": [
  {
   "spacing": 26.5,
   "hconcat": [
    {
     "width": 213, "height": 92.6, "data": {"name": "fr"},
     "layer": [
      {"transform": [{"filter": "datum.p == 'a1'"}], "mark": {"type": "area", "color": "#cdcdfb", "opacity": 0.9},
       "encoding": {"x": {"field": "t", "type": "quantitative", "scale": {"domain": [0, 10000], "nice": false}, "axis": {"title": "Times (s)", "values": [0, 2000, 4000, 6000, 8000, 10000], "format": "d"}},
        "y": {"field": "lo", "type": "quantitative", "scale": {"domain": [0, 20], "nice": false}, "axis": {"title": "Firing rate (n/s)", "values": [0, 5, 10, 15, 20], "tickCount": 5, "labelOverlap": false}},
        "y2": {"field": "hi"}, "detail": {"field": "s", "type": "nominal"}}},
      {"transform": [{"filter": "datum.p == 'a1'"}], "mark": {"type": "line", "color": "#0d0d0d", "strokeWidth": 2.2},
       "encoding": {"x": {"field": "t", "type": "quantitative", "axis": {"title": "Times (s)", "values": [0, 2000, 4000, 6000, 8000, 10000], "format": "d"}}, "y": {"field": "m", "type": "quantitative", "axis": {"title": "Firing rate (n/s)", "values": [0, 5, 10, 15, 20], "tickCount": 5, "labelOverlap": false}}, "detail": {"field": "s", "type": "nominal"}}},
      {"transform": [{"filter": "datum.p == 'a1'"}, {"joinaggregate": [{"op": "min", "field": "t", "as": "t0"}, {"op": "max", "field": "t", "as": "t1"}], "groupby": ["s"]}, {"filter": "datum.t == datum.t0 || datum.t == datum.t1"}],
       "mark": {"type": "rule", "color": "#808080", "strokeWidth": 1},
       "encoding": {"x": {"field": "t", "type": "quantitative", "axis": {"title": "Times (s)", "values": [0, 2000, 4000, 6000, 8000, 10000], "format": "d"}}, "y": {"field": "m", "type": "quantitative", "axis": {"title": "Firing rate (n/s)", "values": [0, 5, 10, 15, 20], "tickCount": 5, "labelOverlap": false}}, "y2": {"value": "height"}}},
      {"data": {"values": [{}]}, "mark": {"type": "text", "fontWeight": "bold", "fontSize": 9.5, "baseline": "middle"}, "encoding": {"x": {"datum": 3150, "type": "quantitative"}, "y": {"datum": 23.1, "type": "quantitative"}, "text": {"value": "10%, 1 Hz"}}},
      {"data": {"values": [{}]}, "mark": {"type": "text", "fontSize": 7, "baseline": "middle"}, "encoding": {"x": {"datum": 7300, "type": "quantitative"}, "y": {"datum": 23.1, "type": "quantitative"}, "text": {"value": "n = 17 cells (1 slice)"}}}
     ]
    },
    {
     "width": 213, "height": 92.6, "data": {"name": "fr"},
     "layer": [
      {"transform": [{"filter": "datum.p == 'a2'"}], "mark": {"type": "area", "color": "#cdcdfb", "opacity": 0.9},
       "encoding": {"x": {"field": "t", "type": "quantitative", "scale": {"domain": [0, 10000], "nice": false}, "axis": {"title": "Times (s)", "values": [0, 2000, 4000, 6000, 8000, 10000], "format": "d"}},
        "y": {"field": "lo", "type": "quantitative", "scale": {"domain": [0, 20], "nice": false}, "axis": {"title": "Firing rate (n/s)", "values": [0, 5, 10, 15, 20], "tickCount": 5, "labelOverlap": false}},
        "y2": {"field": "hi"}, "detail": {"field": "s", "type": "nominal"}}},
      {"transform": [{"filter": "datum.p == 'a2'"}], "mark": {"type": "line", "color": "#0d0d0d", "strokeWidth": 2.2},
       "encoding": {"x": {"field": "t", "type": "quantitative", "axis": {"title": "Times (s)", "values": [0, 2000, 4000, 6000, 8000, 10000], "format": "d"}}, "y": {"field": "m", "type": "quantitative", "axis": {"title": "Firing rate (n/s)", "values": [0, 5, 10, 15, 20], "tickCount": 5, "labelOverlap": false}}, "detail": {"field": "s", "type": "nominal"}}},
      {"transform": [{"filter": "datum.p == 'a2'"}, {"joinaggregate": [{"op": "min", "field": "t", "as": "t0"}, {"op": "max", "field": "t", "as": "t1"}], "groupby": ["s"]}, {"filter": "datum.t == datum.t0 || datum.t == datum.t1"}],
       "mark": {"type": "rule", "color": "#808080", "strokeWidth": 1},
       "encoding": {"x": {"field": "t", "type": "quantitative", "axis": {"title": "Times (s)", "values": [0, 2000, 4000, 6000, 8000, 10000], "format": "d"}}, "y": {"field": "m", "type": "quantitative", "axis": {"title": "Firing rate (n/s)", "values": [0, 5, 10, 15, 20], "tickCount": 5, "labelOverlap": false}}, "y2": {"value": "height"}}},
      {"data": {"values": [{}]}, "mark": {"type": "text", "fontWeight": "bold", "fontSize": 9.5, "baseline": "middle"}, "encoding": {"x": {"datum": 3150, "type": "quantitative"}, "y": {"datum": 23.1, "type": "quantitative"}, "text": {"value": "20%, 1 Hz"}}},
      {"data": {"values": [{}]}, "mark": {"type": "text", "fontSize": 7, "baseline": "middle"}, "encoding": {"x": {"datum": 7350, "type": "quantitative"}, "y": {"datum": 23.1, "type": "quantitative"}, "text": {"value": "n = 20 cells (1 slice)"}}}
     ]
    },
    {
     "width": 213, "height": 92.6, "data": {"name": "fr"},
     "layer": [
      {"transform": [{"filter": "datum.p == 'a3'"}], "mark": {"type": "area", "color": "#cdcdfb", "opacity": 0.9},
       "encoding": {"x": {"field": "t", "type": "quantitative", "scale": {"domain": [0, 10000], "nice": false}, "axis": {"title": "Times (s)", "values": [0, 2000, 4000, 6000, 8000, 10000], "format": "d"}},
        "y": {"field": "lo", "type": "quantitative", "scale": {"domain": [0, 20], "nice": false}, "axis": {"title": "Firing rate (n/s)", "values": [0, 5, 10, 15, 20], "tickCount": 5, "labelOverlap": false}},
        "y2": {"field": "hi"}, "detail": {"field": "s", "type": "nominal"}}},
      {"transform": [{"filter": "datum.p == 'a3'"}], "mark": {"type": "line", "color": "#0d0d0d", "strokeWidth": 2.2},
       "encoding": {"x": {"field": "t", "type": "quantitative", "axis": {"title": "Times (s)", "values": [0, 2000, 4000, 6000, 8000, 10000], "format": "d"}}, "y": {"field": "m", "type": "quantitative", "axis": {"title": "Firing rate (n/s)", "values": [0, 5, 10, 15, 20], "tickCount": 5, "labelOverlap": false}}, "detail": {"field": "s", "type": "nominal"}}},
      {"transform": [{"filter": "datum.p == 'a3'"}, {"joinaggregate": [{"op": "min", "field": "t", "as": "t0"}, {"op": "max", "field": "t", "as": "t1"}], "groupby": ["s"]}, {"filter": "datum.t == datum.t0 || datum.t == datum.t1"}],
       "mark": {"type": "rule", "color": "#808080", "strokeWidth": 1},
       "encoding": {"x": {"field": "t", "type": "quantitative", "axis": {"title": "Times (s)", "values": [0, 2000, 4000, 6000, 8000, 10000], "format": "d"}}, "y": {"field": "m", "type": "quantitative", "axis": {"title": "Firing rate (n/s)", "values": [0, 5, 10, 15, 20], "tickCount": 5, "labelOverlap": false}}, "y2": {"value": "height"}}},
      {"data": {"values": [{}]}, "mark": {"type": "text", "fontWeight": "bold", "fontSize": 9.5, "baseline": "middle"}, "encoding": {"x": {"datum": 3280, "type": "quantitative"}, "y": {"datum": 23.1, "type": "quantitative"}, "text": {"value": "30%, 1 Hz"}}},
      {"data": {"values": [{}]}, "mark": {"type": "text", "fontSize": 7, "baseline": "middle"}, "encoding": {"x": {"datum": 7450, "type": "quantitative"}, "y": {"datum": 23.1, "type": "quantitative"}, "text": {"value": "n = 18 cells (1 slice)"}}}
     ]
    }
   ]
  },
  {
   "spacing": 26.5,
   "hconcat": [
    {
     "width": 213, "height": 94.4, "data": {"name": "fr"},
     "layer": [
      {"transform": [{"filter": "datum.p == 'b1'"}], "mark": {"type": "area", "color": "#cdcdfb", "opacity": 0.9},
       "encoding": {"x": {"field": "t", "type": "quantitative", "scale": {"domain": [0, 10000], "nice": false}, "axis": {"title": "Times (s)", "values": [0, 2000, 4000, 6000, 8000, 10000], "format": "d"}},
        "y": {"field": "lo", "type": "quantitative", "scale": {"domain": [0, 20], "nice": false}, "axis": {"title": "Firing rate (n/s)", "values": [0, 5, 10, 15, 20], "tickCount": 5, "labelOverlap": false}},
        "y2": {"field": "hi"}, "detail": {"field": "s", "type": "nominal"}}},
      {"transform": [{"filter": "datum.p == 'b1'"}], "mark": {"type": "line", "color": "#0d0d0d", "strokeWidth": 2.2},
       "encoding": {"x": {"field": "t", "type": "quantitative", "axis": {"title": "Times (s)", "values": [0, 2000, 4000, 6000, 8000, 10000], "format": "d"}}, "y": {"field": "m", "type": "quantitative", "axis": {"title": "Firing rate (n/s)", "values": [0, 5, 10, 15, 20], "tickCount": 5, "labelOverlap": false}}, "detail": {"field": "s", "type": "nominal"}}},
      {"transform": [{"filter": "datum.p == 'b1'"}, {"joinaggregate": [{"op": "min", "field": "t", "as": "t0"}, {"op": "max", "field": "t", "as": "t1"}], "groupby": ["s"]}, {"filter": "datum.t == datum.t0 || datum.t == datum.t1"}],
       "mark": {"type": "rule", "color": "#808080", "strokeWidth": 1},
       "encoding": {"x": {"field": "t", "type": "quantitative", "axis": {"title": "Times (s)", "values": [0, 2000, 4000, 6000, 8000, 10000], "format": "d"}}, "y": {"field": "m", "type": "quantitative", "axis": {"title": "Firing rate (n/s)", "values": [0, 5, 10, 15, 20], "tickCount": 5, "labelOverlap": false}}, "y2": {"value": "height"}}},
      {"data": {"values": [{}]}, "mark": {"type": "text", "fontWeight": "bold", "fontSize": 9.5, "baseline": "middle"}, "encoding": {"x": {"datum": 3110, "type": "quantitative"}, "y": {"datum": 22.8, "type": "quantitative"}, "text": {"value": "10%, 1 Hz"}}},
      {"data": {"values": [{}]}, "mark": {"type": "text", "fontSize": 7, "baseline": "middle"}, "encoding": {"x": {"datum": 7290, "type": "quantitative"}, "y": {"datum": 22.8, "type": "quantitative"}, "text": {"value": "n = 16 cells (1 slice)"}}}
     ]
    },
    {
     "width": 213, "height": 94.4, "data": {"name": "fr"},
     "layer": [
      {"transform": [{"filter": "datum.p == 'b2'"}], "mark": {"type": "area", "color": "#cdcdfb", "opacity": 0.9},
       "encoding": {"x": {"field": "t", "type": "quantitative", "scale": {"domain": [0, 10000], "nice": false}, "axis": {"title": "Times (s)", "values": [0, 2000, 4000, 6000, 8000, 10000], "format": "d"}},
        "y": {"field": "lo", "type": "quantitative", "scale": {"domain": [0, 20], "nice": false}, "axis": {"title": "Firing rate (n/s)", "values": [0, 5, 10, 15, 20], "tickCount": 5, "labelOverlap": false}},
        "y2": {"field": "hi"}, "detail": {"field": "s", "type": "nominal"}}},
      {"transform": [{"filter": "datum.p == 'b2'"}], "mark": {"type": "line", "color": "#0d0d0d", "strokeWidth": 2.2},
       "encoding": {"x": {"field": "t", "type": "quantitative", "axis": {"title": "Times (s)", "values": [0, 2000, 4000, 6000, 8000, 10000], "format": "d"}}, "y": {"field": "m", "type": "quantitative", "axis": {"title": "Firing rate (n/s)", "values": [0, 5, 10, 15, 20], "tickCount": 5, "labelOverlap": false}}, "detail": {"field": "s", "type": "nominal"}}},
      {"transform": [{"filter": "datum.p == 'b2'"}, {"joinaggregate": [{"op": "min", "field": "t", "as": "t0"}, {"op": "max", "field": "t", "as": "t1"}], "groupby": ["s"]}, {"filter": "datum.t == datum.t0 || datum.t == datum.t1"}],
       "mark": {"type": "rule", "color": "#808080", "strokeWidth": 1},
       "encoding": {"x": {"field": "t", "type": "quantitative", "axis": {"title": "Times (s)", "values": [0, 2000, 4000, 6000, 8000, 10000], "format": "d"}}, "y": {"field": "m", "type": "quantitative", "axis": {"title": "Firing rate (n/s)", "values": [0, 5, 10, 15, 20], "tickCount": 5, "labelOverlap": false}}, "y2": {"value": "height"}}},
      {"data": {"values": [{}]}, "mark": {"type": "text", "fontWeight": "bold", "fontSize": 9.5, "baseline": "middle"}, "encoding": {"x": {"datum": 3150, "type": "quantitative"}, "y": {"datum": 22.8, "type": "quantitative"}, "text": {"value": "20%, 20 Hz"}}},
      {"data": {"values": [{}]}, "mark": {"type": "text", "fontSize": 7, "baseline": "middle"}, "encoding": {"x": {"datum": 7330, "type": "quantitative"}, "y": {"datum": 22.8, "type": "quantitative"}, "text": {"value": "n = 16 cells (1 slice)"}}}
     ]
    },
    {
     "width": 213, "height": 94.4, "data": {"name": "fr"},
     "layer": [
      {"transform": [{"filter": "datum.p == 'b3'"}], "mark": {"type": "area", "color": "#cdcdfb", "opacity": 0.9},
       "encoding": {"x": {"field": "t", "type": "quantitative", "scale": {"domain": [0, 10000], "nice": false}, "axis": {"title": "Times (s)", "values": [0, 2000, 4000, 6000, 8000, 10000], "format": "d"}},
        "y": {"field": "lo", "type": "quantitative", "scale": {"domain": [0, 20], "nice": false}, "axis": {"title": "Firing rate (n/s)", "values": [0, 5, 10, 15, 20], "tickCount": 5, "labelOverlap": false}},
        "y2": {"field": "hi"}, "detail": {"field": "s", "type": "nominal"}}},
      {"transform": [{"filter": "datum.p == 'b3'"}], "mark": {"type": "line", "color": "#0d0d0d", "strokeWidth": 2.2},
       "encoding": {"x": {"field": "t", "type": "quantitative", "axis": {"title": "Times (s)", "values": [0, 2000, 4000, 6000, 8000, 10000], "format": "d"}}, "y": {"field": "m", "type": "quantitative", "axis": {"title": "Firing rate (n/s)", "values": [0, 5, 10, 15, 20], "tickCount": 5, "labelOverlap": false}}, "detail": {"field": "s", "type": "nominal"}}},
      {"transform": [{"filter": "datum.p == 'b3'"}, {"joinaggregate": [{"op": "min", "field": "t", "as": "t0"}, {"op": "max", "field": "t", "as": "t1"}], "groupby": ["s"]}, {"filter": "datum.t == datum.t0 || datum.t == datum.t1"}],
       "mark": {"type": "rule", "color": "#808080", "strokeWidth": 1},
       "encoding": {"x": {"field": "t", "type": "quantitative", "axis": {"title": "Times (s)", "values": [0, 2000, 4000, 6000, 8000, 10000], "format": "d"}}, "y": {"field": "m", "type": "quantitative", "axis": {"title": "Firing rate (n/s)", "values": [0, 5, 10, 15, 20], "tickCount": 5, "labelOverlap": false}}, "y2": {"value": "height"}}},
      {"data": {"values": [{}]}, "mark": {"type": "text", "fontWeight": "bold", "fontSize": 9.5, "baseline": "middle"}, "encoding": {"x": {"datum": 3160, "type": "quantitative"}, "y": {"datum": 22.8, "type": "quantitative"}, "text": {"value": "30%, 20 Hz"}}},
      {"data": {"values": [{}]}, "mark": {"type": "text", "fontSize": 7, "baseline": "middle"}, "encoding": {"x": {"datum": 7270, "type": "quantitative"}, "y": {"datum": 22.8, "type": "quantitative"}, "text": {"value": "n = 22 cells (1 slice)"}}}
     ]
    }
   ]
  }
 ]
}
]
}
